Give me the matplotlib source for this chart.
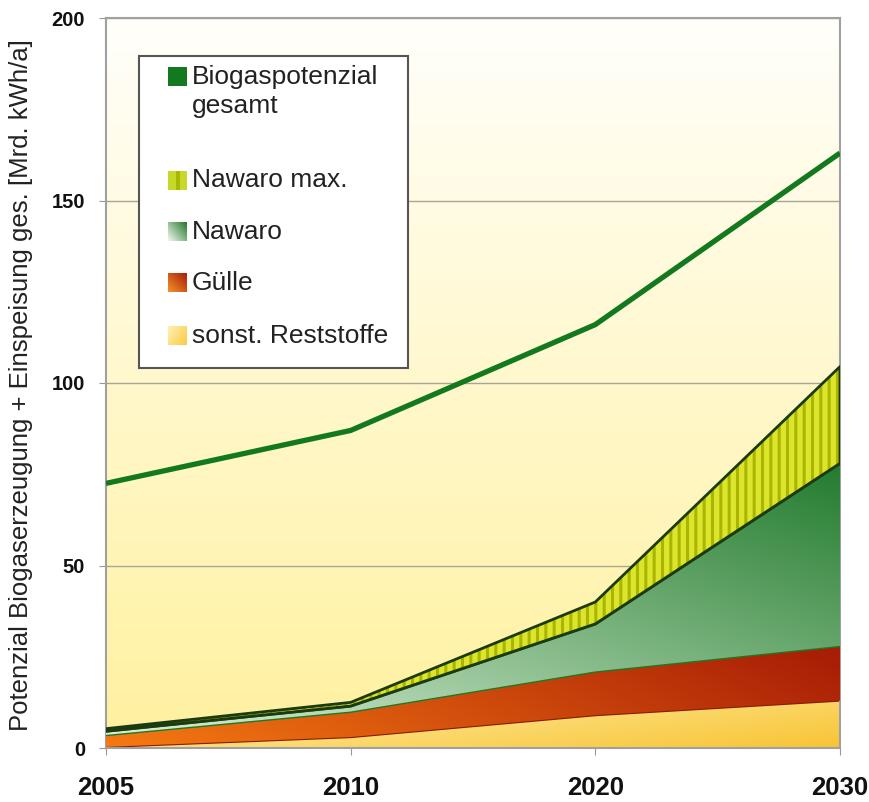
import numpy as np
import matplotlib
matplotlib.use("Agg")
import matplotlib.pyplot as plt
from matplotlib.patches import PathPatch, Rectangle
from matplotlib.colors import to_rgb

# ---------------- data ----------------
years = ["2005", "2010", "2020", "2030"]
reststoffe = [0.3, 3.0, 9.0, 13.0]      # sonst. Reststoffe
guelle = [3.3, 7.0, 12.0, 15.0]         # Gülle (stacked increment)
nawaro = [1.0, 1.5, 13.0, 50.0]         # Nawaro (stacked increment)
nawaro_max = [0.7, 1.0, 6.0, 26.5]      # Nawaro max. (stacked increment)
gesamt = [72.5, 87.0, 116.0, 163.0]     # Biogaspotenzial gesamt
yticks = [0, 50, 100, 150, 200]

plt.rcParams['font.family'] = ['Liberation Sans', 'DejaVu Sans']
plt.rcParams['hatch.linewidth'] = 2.2

fig = plt.figure(figsize=(8.69, 8.02), dpi=100)
ax = fig.add_axes([106/869, 1-748/802, 734/869, 730/802])

x = np.arange(len(years))
r = np.array(reststoffe)
g = r + np.array(guelle)
n = g + np.array(nawaro)
m = n + np.array(nawaro_max)


def gradient(c0, c1, a, b, flipv=False, nx=200, ny=200):
    u = np.linspace(0, 1, nx)[None, :]
    v = np.linspace(0, 1, ny)[:, None]
    if flipv:
        v = 1 - v
    t = np.clip(a*u + b*v, 0, 1)[..., None]
    c0 = np.array(to_rgb(c0)); c1 = np.array(to_rgb(c1))
    return c0*(1-t) + c1*t


# background gradient
bg = gradient("#FFF19E", "#FFFFFB", 0.0, 1.0)
ax.imshow(bg, extent=(0, 3, 0, 200), origin='lower', aspect='auto', zorder=0)


def grad_fill(lo, hi, img, ext, z, edge, lw):
    poly = ax.fill_between(x, lo, hi, facecolor='none', edgecolor='none', zorder=z)
    path = poly.get_paths()[0]
    patch = PathPatch(path, transform=ax.transData, facecolor='none', edgecolor='none')
    ax.add_patch(patch)
    im = ax.imshow(img, extent=ext, origin='lower', aspect='auto', zorder=z)
    im.set_clip_path(patch)
    ax.plot(x, hi, color=edge, lw=lw, zorder=z+0.5, solid_joinstyle='round')


zeros = np.zeros(len(x))
# sonst. Reststoffe
grad_fill(zeros, r, gradient("#FFF2B2", "#F8C434", 0.6, 0.4, flipv=True), (0, 3, 0, 14), 2, "#8A1A00", 1.6)
# Gülle
grad_fill(r, g, gradient("#F67A12", "#A81E06", 0.8, 0.25), (0, 3, 0, 30), 3, "#1E7A22", 2.0)
# Nawaro
grad_fill(g, n, gradient("#DDF2DA", "#217A2C", 0.45, 0.55), (0, 3, 0, 80), 4, "#1B4E14", 2.2)
# Nawaro max
ax.fill_between(x, n, m, facecolor="#DCE42C", edgecolor='none', zorder=5)
ax.fill_between(x, n, m, facecolor='none', edgecolor="#A9B600", hatch='||', linewidth=0, zorder=5.2)
ax.fill_between(x, n, m, facecolor='none', edgecolor="#1C3A10", linewidth=2.0, zorder=5.5)

# total line
ax.plot(x, gesamt, color="#13791F", lw=3.8, zorder=7, solid_joinstyle='round', solid_capstyle='butt')

ax.set_xlim(0, 3)
ax.set_ylim(0, 200)
ax.set_xticks(x)
ax.set_xticklabels(years, fontsize=18.5, fontweight='bold', color='#111111')
ax.set_yticks(yticks)
ax.set_yticklabels([str(t) for t in yticks], fontsize=14.5, fontweight='bold', color='#111111')
ax.tick_params(axis='x', length=5, color="#999999", pad=15)
ax.tick_params(axis='y', length=5, color="#999999", pad=10)
ax.set_axisbelow(True)
ax.yaxis.grid(True, color="#A8A496", lw=1.0)
for s in ax.spines.values():
    s.set_color("#A0A0A0")
    s.set_linewidth(1.5)
ax.set_ylabel("Potenzial Biogaserzeugung + Einspeisung ges. [Mrd. kWh/a]", fontsize=18.5, color='#222222')
ax.yaxis.set_label_coords((33 - 106) / 734, 0.497)

# ---------------- legend (manual) ----------------
def ax_x(px):
    return (px - 106) / 734

def ax_y(py):
    return 1 - (py - 18) / 730

box = Rectangle((ax_x(139), ax_y(368)), ax_x(408) - ax_x(139), ax_y(56) - ax_y(368),
                transform=ax.transAxes, facecolor='white', edgecolor='#555555', lw=1.5, zorder=10)
ax.add_patch(box)

entries = [
    ("Biogaspotenzial", 77, gradient("#13791F", "#13791F", 0, 0, nx=10, ny=10)),
    ("Nawaro max.", 180, None),
    ("Nawaro", 232, gradient("#EEF8EC", "#2A7A30", 0.55, 0.45, nx=20, ny=20)),
    ("Gülle", 283, gradient("#F4902A", "#A8200A", 0.5, 0.5, nx=20, ny=20)),
    ("sonst. Reststoffe", 336, gradient("#FFF0B0", "#FBCB48", 0.6, 0.4, flipv=True, nx=20, ny=20)),
]
sq = 19
for label, cy, img in entries:
    x0, x1 = ax_x(168), ax_x(168 + sq)
    y0, y1 = ax_y(cy + sq/2), ax_y(cy - sq/2)
    if img is not None:
        ax.imshow(img, extent=(x0, x1, y0, y1), origin='lower', aspect='auto',
                  transform=ax.transAxes, zorder=11)
    else:
        ax.add_patch(Rectangle((x0, y0), x1-x0, y1-y0, transform=ax.transAxes,
                               facecolor="#C8D82A", edgecolor='none', zorder=11))
        ax.add_patch(Rectangle((x0 + (x1-x0)*0.4, y0), (x1-x0)*0.25, y1-y0, transform=ax.transAxes,
                               facecolor="#A8B800", edgecolor='none', zorder=11.5))
    ax.text(ax_x(192), ax_y(cy), label, transform=ax.transAxes, fontsize=19,
            va='center', ha='left', color='#222222', zorder=12)
ax.text(ax_x(192), ax_y(106), "gesamt", transform=ax.transAxes, fontsize=19,
        va='center', ha='left', color='#222222', zorder=12)

ax.set_xlim(0, 3)
ax.set_ylim(0, 200)
fig.savefig("out.png", dpi=100)
